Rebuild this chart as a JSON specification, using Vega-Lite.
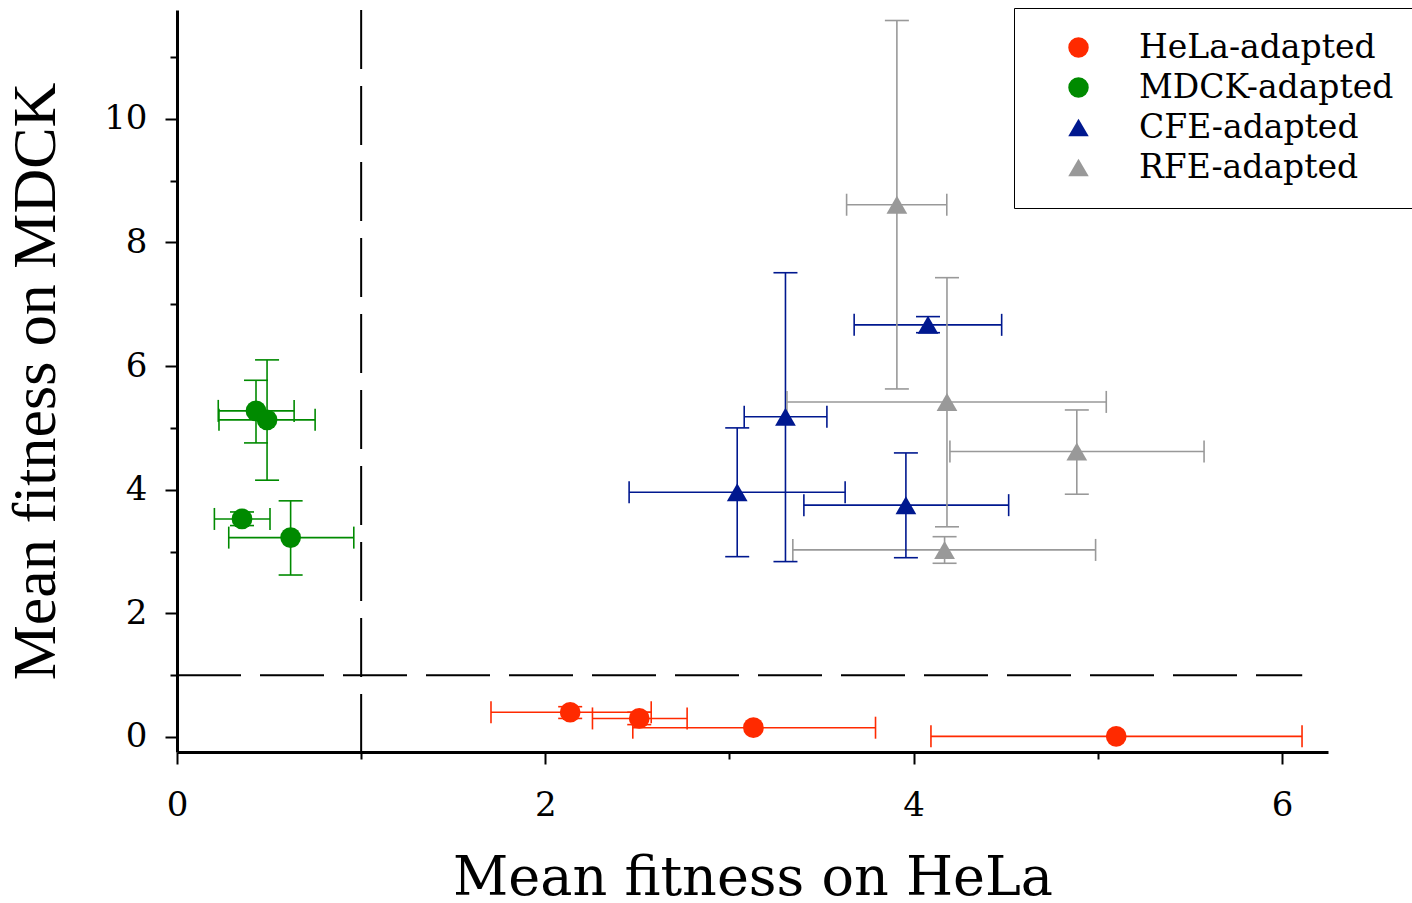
{
  "$schema": "https://vega.github.io/schema/vega-lite/v6.json",
  "width": 1151,
  "height": 742,
  "autosize": {"type": "none"},
  "padding": {"left": 177, "top": 10, "right": 84, "bottom": 151},
  "background": "white",
  "config": {
    "view": {"stroke": null},
    "axis": {
      "grid": false,
      "domainColor": "black",
      "domainWidth": 3,
      "tickColor": "black",
      "tickWidth": 2,
      "labelColor": "black",
      "labelFont": "DejaVu Serif",
      "labelFontSize": 34,
      "titleColor": "black",
      "titleFontWeight": "normal"
    },
    "legend": {
      "labelFont": "DejaVu Serif",
      "labelFontSize": 33,
      "labelColor": "black",
      "labelLimit": 500
    }
  },
  "resolve": {"legend": {"color": "independent", "shape": "independent"}},
  "datasets": {
    "pts": [
      {"group": "HeLa-adapted", "x": 2.135, "xlo": 1.705, "xhi": 2.575, "y": 0.40, "ylo": 0.30, "yhi": 0.49},
      {"group": "HeLa-adapted", "x": 2.51, "xlo": 2.256, "xhi": 2.77, "y": 0.30, "ylo": 0.20, "yhi": 0.40},
      {"group": "HeLa-adapted", "x": 3.13, "xlo": 2.475, "xhi": 3.793, "y": 0.15, "ylo": null, "yhi": null},
      {"group": "HeLa-adapted", "x": 5.10, "xlo": 4.094, "xhi": 6.109, "y": 0.01, "ylo": null, "yhi": null},
      {"group": "MDCK-adapted", "x": 0.429, "xlo": 0.224, "xhi": 0.636, "y": 5.275, "ylo": 4.757, "yhi": 5.77},
      {"group": "MDCK-adapted", "x": 0.489, "xlo": 0.228, "xhi": 0.75, "y": 5.13, "ylo": 4.154, "yhi": 6.10},
      {"group": "MDCK-adapted", "x": 0.353, "xlo": 0.203, "xhi": 0.505, "y": 3.527, "ylo": 3.42, "yhi": 3.64},
      {"group": "MDCK-adapted", "x": 0.617, "xlo": 0.281, "xhi": 0.96, "y": 3.225, "ylo": 2.62, "yhi": 3.82},
      {"group": "CFE-adapted", "x": 3.042, "xlo": 2.455, "xhi": 3.628, "y": 3.96, "ylo": 2.917, "yhi": 5.0},
      {"group": "CFE-adapted", "x": 3.304, "xlo": 3.08, "xhi": 3.529, "y": 5.18, "ylo": 2.837, "yhi": 7.51},
      {"group": "CFE-adapted", "x": 3.958, "xlo": 3.404, "xhi": 4.516, "y": 3.75, "ylo": 2.90, "yhi": 4.595},
      {"group": "CFE-adapted", "x": 4.078, "xlo": 3.677, "xhi": 4.478, "y": 6.667, "ylo": 6.54, "yhi": 6.80},
      {"group": "RFE-adapted", "x": 3.909, "xlo": 3.636, "xhi": 4.18, "y": 8.61, "ylo": 5.63, "yhi": 11.59},
      {"group": "RFE-adapted", "x": 4.181, "xlo": 3.312, "xhi": 5.046, "y": 5.42, "ylo": 3.40, "yhi": 7.43},
      {"group": "RFE-adapted", "x": 4.168, "xlo": 3.344, "xhi": 4.988, "y": 3.026, "ylo": 2.81, "yhi": 3.24},
      {"group": "RFE-adapted", "x": 4.886, "xlo": 4.197, "xhi": 5.577, "y": 4.617, "ylo": 3.927, "yhi": 5.29}
    ],
    "vline": [{"x": 1}],
    "hline": [{"y": 1, "x": 0, "x2": 6.11}]
  },
  "layer": [
    {
      "data": {"name": "vline"},
      "mark": {"type": "rule", "color": "black", "strokeWidth": 2, "strokeDash": [59, 17]},
      "encoding": {
        "x": {
          "field": "x", "type": "quantitative",
          "scale": {"domain": [0, 6.25], "nice": false, "zero": false},
          "axis": {
            "title": "Mean fitness on HeLa",
            "titleFont": "DejaVu Serif",
            "titleFontSize": 54,
            "titlePadding": 29,
            "values": [0, 1, 2, 3, 4, 5, 6],
            "format": "d",
            "labelExpr": "datum.value % 2 === 0 ? datum.label : ''",
            "tickSize": {"condition": {"test": "datum.value % 2 !== 0", "value": 7}, "value": 12},
            "labelPadding": 24,
            "labelFlush": false,
            "labelOverlap": false
          }
        }
      }
    },
    {
      "data": {"name": "hline"},
      "mark": {"type": "rule", "color": "black", "strokeWidth": 2, "strokeDash": [64, 19]},
      "encoding": {
        "x": {"field": "x", "type": "quantitative"},
        "x2": {"field": "x2"},
        "y": {
          "field": "y", "type": "quantitative",
          "scale": {"domain": [-0.243, 11.76], "nice": false, "zero": false},
          "axis": {
            "title": "Mean fitness on MDCK",
            "titleFont": "Liberation Serif",
            "titleFontSize": 62,
            "titlePadding": 36,
            "values": [0, 1, 2, 3, 4, 5, 6, 7, 8, 9, 10, 11],
            "format": "d",
            "labelExpr": "datum.value % 2 === 0 ? datum.label : ''",
            "tickSize": {"condition": {"test": "datum.value % 2 !== 0", "value": 7}, "value": 12},
            "labelPadding": 18,
            "labelFlush": false,
            "labelOverlap": false
          }
        }
      }
    },
    {
      "data": {"name": "pts"},
      "mark": {"type": "rule", "strokeWidth": 1.6},
      "encoding": {
        "x": {"field": "xlo", "type": "quantitative"},
        "x2": {"field": "xhi"},
        "y": {"field": "y", "type": "quantitative"},
        "color": {"field": "group", "type": "nominal", "legend": null}
      }
    },
    {
      "data": {"name": "pts"},
      "mark": {"type": "rule", "strokeWidth": 1.6},
      "encoding": {
        "x": {"field": "x", "type": "quantitative"},
        "y": {"field": "ylo", "type": "quantitative"},
        "y2": {"field": "yhi"},
        "color": {"field": "group", "type": "nominal", "legend": null}
      }
    },
    {
      "data": {"name": "pts"},
      "mark": {"type": "tick", "orient": "vertical", "size": 22, "thickness": 1.6, "opacity": 1},
      "encoding": {
        "x": {"field": "xlo", "type": "quantitative"},
        "y": {"field": "y", "type": "quantitative"},
        "color": {"field": "group", "type": "nominal", "legend": null}
      }
    },
    {
      "data": {"name": "pts"},
      "mark": {"type": "tick", "orient": "vertical", "size": 22, "thickness": 1.6, "opacity": 1},
      "encoding": {
        "x": {"field": "xhi", "type": "quantitative"},
        "y": {"field": "y", "type": "quantitative"},
        "color": {"field": "group", "type": "nominal", "legend": null}
      }
    },
    {
      "data": {"name": "pts"},
      "mark": {"type": "tick", "orient": "horizontal", "size": 24, "thickness": 1.6, "opacity": 1},
      "encoding": {
        "x": {"field": "x", "type": "quantitative"},
        "y": {"field": "ylo", "type": "quantitative"},
        "color": {"field": "group", "type": "nominal", "legend": null}
      }
    },
    {
      "data": {"name": "pts"},
      "mark": {"type": "tick", "orient": "horizontal", "size": 24, "thickness": 1.6, "opacity": 1},
      "encoding": {
        "x": {"field": "x", "type": "quantitative"},
        "y": {"field": "yhi", "type": "quantitative"},
        "color": {"field": "group", "type": "nominal", "legend": null}
      }
    },
    {
      "data": {"name": "pts"},
      "mark": {"type": "point", "filled": true, "size": 430, "opacity": 1, "strokeWidth": 0},
      "encoding": {
        "x": {"field": "x", "type": "quantitative"},
        "y": {"field": "y", "type": "quantitative"},
        "color": {
          "field": "group", "type": "nominal",
          "scale": {
            "domain": ["HeLa-adapted", "MDCK-adapted", "CFE-adapted", "RFE-adapted"],
            "range": ["#ff2a00", "#008a00", "#00188f", "#999999"]
          },
          "legend": {
            "title": null,
            "orient": "none",
            "legendX": 837,
            "legendY": -2,
            "strokeColor": "black",
            "fillColor": "white",
            "padding": 23,
            "symbolOffset": 25,
            "symbolSize": 420,
            "symbolStrokeWidth": 0,
            "labelOffset": 44,
            "labelLimit": 500,
            "rowPadding": 6
          }
        },
        "shape": {
          "field": "group", "type": "nominal",
          "scale": {
            "domain": ["HeLa-adapted", "MDCK-adapted", "CFE-adapted", "RFE-adapted"],
            "range": ["circle", "circle", "triangle-up", "triangle-up"]
          },
          "legend": {
            "title": null,
            "orient": "none",
            "legendX": 837,
            "legendY": -2,
            "strokeColor": "black",
            "fillColor": "white",
            "padding": 23,
            "symbolOffset": 25,
            "symbolSize": 420,
            "symbolStrokeWidth": 0,
            "labelOffset": 44,
            "labelLimit": 500,
            "rowPadding": 6
          }
        }
      }
    }
  ]
}
